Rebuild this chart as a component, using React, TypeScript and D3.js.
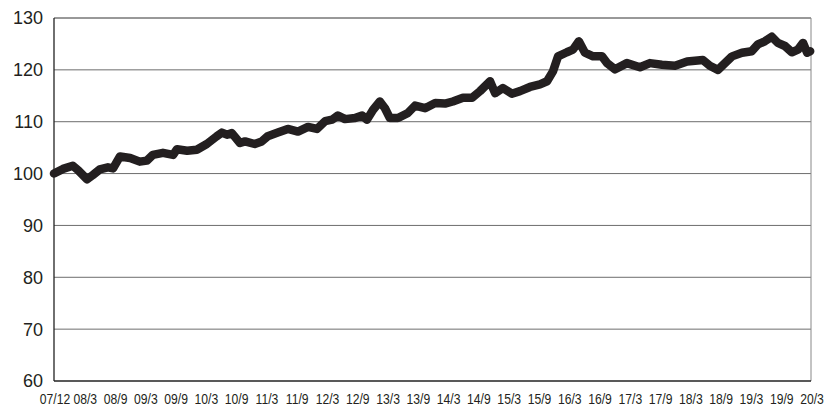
import React, { useRef, useEffect } from "react";
import * as d3 from "d3";

// index series (date, value)
const dates: string[] = [
    "2007-12-01", "2008-01-23", "2008-03-21", "2008-04-20", "2008-06-13", "2008-07-17",
    "2008-08-28", "2008-10-15", "2008-11-14", "2008-12-25", "2009-02-23", "2009-04-21",
    "2009-06-02", "2009-07-07", "2009-09-05", "2009-11-04", "2009-11-27", "2010-01-26",
    "2010-03-24", "2010-05-22", "2010-07-20", "2010-08-19", "2010-09-18", "2010-10-17",
    "2010-12-04", "2011-01-03", "2011-03-01", "2011-04-12", "2011-05-17", "2011-07-16",
    "2011-09-13", "2011-11-12", "2012-01-10", "2012-03-03", "2012-04-20", "2012-06-01",
    "2012-07-05", "2012-08-16", "2012-10-14", "2012-11-25", "2012-12-24", "2013-01-29",
    "2013-03-10", "2013-04-09", "2013-05-08", "2013-06-25", "2013-08-23", "2013-10-04",
    "2013-12-02", "2014-01-31", "2014-03-30", "2014-05-15", "2014-07-14", "2014-09-06",
    "2014-10-23", "2014-12-21", "2015-01-20", "2015-03-07", "2015-04-29", "2015-06-16",
    "2015-08-14", "2015-10-12", "2015-11-23", "2015-12-28", "2016-01-27", "2016-03-19",
    "2016-04-24", "2016-05-29", "2016-07-04", "2016-08-21", "2016-10-13", "2016-11-12",
    "2016-12-29", "2017-03-09", "2017-05-25", "2017-07-23", "2017-10-02", "2017-12-18",
    "2018-02-28", "2018-06-01", "2018-07-12", "2018-08-29", "2018-11-20", "2019-01-18",
    "2019-03-17", "2019-04-22", "2019-06-02", "2019-07-13", "2019-08-18", "2019-09-29",
    "2019-11-09", "2019-12-15", "2020-01-14", "2020-02-07", "2020-02-25",
];

const values: number[] = [
    100.0, 100.9, 101.5, 100.7, 98.9, 99.7,
    100.8, 101.2, 101.0, 103.3, 103.0, 102.3,
    102.5, 103.6, 104.0, 103.6, 104.7, 104.4,
    104.6, 105.7, 107.2, 107.9, 107.5, 107.8,
    105.9, 106.2, 105.7, 106.2, 107.2, 107.9,
    108.6, 108.1, 109.0, 108.6, 110.1, 110.4,
    111.2, 110.5, 110.7, 111.2, 110.4, 112.3,
    113.9, 112.6, 110.7, 110.7, 111.7, 113.1,
    112.6, 113.6, 113.5, 113.9, 114.6, 114.6,
    115.9, 117.8, 115.5, 116.5, 115.4, 115.9,
    116.7, 117.2, 117.8, 119.7, 122.6, 123.4,
    123.9, 125.5, 123.3, 122.6, 122.6, 121.3,
    120.1, 121.3, 120.5, 121.3, 121.0, 120.8,
    121.6, 121.9, 120.8, 120.0, 122.6, 123.3,
    123.6, 124.9, 125.5, 126.4, 125.2, 124.6,
    123.4, 123.9, 125.2, 123.3, 123.6,
];

const yTicks: number[] = [60, 70, 80, 90, 100, 110, 120, 130];

const xLabels: string[] = [
    "07/12", "08/3", "08/9", "09/3", "09/9", "10/3", "10/9", "11/3", "11/9",
    "12/3", "12/9", "13/3", "13/9", "14/3", "14/9", "15/3", "15/9", "16/3",
    "16/9", "17/3", "17/9", "18/3", "18/9", "19/3", "19/9", "20/3",
];

const App: React.FC = () => {
    const ref = useRef<SVGSVGElement | null>(null);

    useEffect(() => {
        const svg = d3.select(ref.current);
        svg.selectAll("*").remove();

        const W = 825;
        const H = 407;
        const margin = { top: 18, right: 14, bottom: 26, left: 54 };
        const width = W - margin.left - margin.right;
        const height = H - margin.top - margin.bottom;

        svg.attr("width", W).attr("height", H);

        const parse = d3.timeParse("%Y-%m-%d");
        const data = dates.map((d, i) => ({ date: parse(d) as Date, value: values[i] }));

        const x = d3
            .scaleTime()
            .domain([parse("2007-12-01") as Date, parse("2020-03-01") as Date])
            .range([margin.left, margin.left + width]);

        const y = d3
            .scaleLinear()
            .domain([60, 130])
            .range([margin.top + height, margin.top]);

        // the month labels sit evenly under the axis
        const xl = d3
            .scalePoint<string>()
            .domain(xLabels)
            .range([margin.left + 1, margin.left + width + 1]);

        // gridlines
        svg.append("g")
            .selectAll("line")
            .data(yTicks.filter((t) => t > 60 && t < 130))
            .enter()
            .append("line")
            .attr("x1", margin.left)
            .attr("x2", margin.left + width)
            .attr("y1", (d) => y(d))
            .attr("y2", (d) => y(d))
            .attr("stroke", "#6d6d6d")
            .attr("stroke-width", 1);

        // frame
        svg.append("line")
            .attr("x1", margin.left)
            .attr("x2", margin.left + width)
            .attr("y1", y(130))
            .attr("y2", y(130))
            .attr("stroke", "#333")
            .attr("stroke-width", 1);
        svg.append("line")
            .attr("x1", margin.left + width)
            .attr("x2", margin.left + width)
            .attr("y1", y(130))
            .attr("y2", y(60))
            .attr("stroke", "#888")
            .attr("stroke-width", 1);
        svg.append("line")
            .attr("x1", margin.left)
            .attr("x2", margin.left + width)
            .attr("y1", y(60))
            .attr("y2", y(60))
            .attr("stroke", "#222")
            .attr("stroke-width", 1.3);
        svg.append("line")
            .attr("x1", margin.left)
            .attr("x2", margin.left)
            .attr("y1", y(130))
            .attr("y2", y(60))
            .attr("stroke", "#222")
            .attr("stroke-width", 1.3);

        // y labels
        svg.append("g")
            .selectAll("text")
            .data(yTicks)
            .enter()
            .append("text")
            .attr("x", margin.left - 11)
            .attr("y", (d) => y(d))
            .attr("dy", "0.36em")
            .attr("text-anchor", "end")
            .style("font-family", "'Liberation Sans', Arial, sans-serif")
            .style("font-size", "18px")
            .attr("fill", "#231f20")
            .text((d) => d);

        // x labels, squeezed to look like a condensed face
        svg.append("g")
            .selectAll("text")
            .data(xLabels)
            .enter()
            .append("text")
            .attr("transform", (d) => `translate(${xl(d)},${H - 3}) scale(0.84,1)`)
            .attr("text-anchor", "middle")
            .style("font-family", "'Liberation Sans', Arial, sans-serif")
            .style("font-size", "14.5px")
            .attr("fill", "#231f20")
            .text((d) => d);

        const line = d3
            .line<{ date: Date; value: number }>()
            .x((d) => x(d.date))
            .y((d) => y(d.value));

        svg.append("path")
            .datum(data)
            .attr("fill", "none")
            .attr("stroke", "#231f20")
            .attr("stroke-width", 8.5)
            .attr("stroke-linejoin", "round")
            .attr("stroke-linecap", "round")
            .attr("d", line);
    }, []);

    return (
        <div style={{ position: "absolute", left: 0, top: 0, background: "#fff" }}>
            <svg ref={ref}></svg>
        </div>
    );
};

export default App;
